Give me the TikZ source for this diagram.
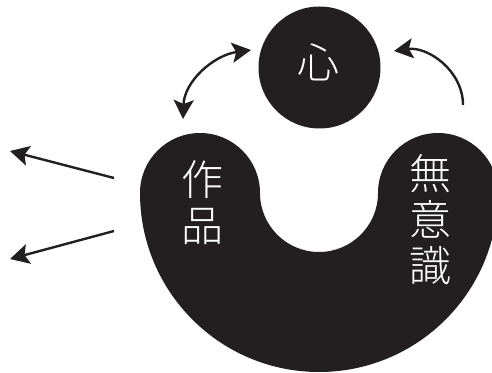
\documentclass[tikz,border=0pt]{standalone}
\usepackage{fontspec}
\IfFontExistsTF{Noto Sans CJK JP Light}
  {\newfontfamily\cjk{Noto Sans CJK JP Light}}
  {\newfontfamily\cjk{Noto Sans CJK JP}}
\usetikzlibrary{arrows.meta}
\definecolor{ink}{HTML}{231F20}
\tikzset{
  tip/.tip={Stealth[length=19pt,width=20pt,inset=4pt]},
  arr/.style={draw=ink, line width=2.4pt, -tip},
  darr/.style={draw=ink, line width=2.4pt, tip-tip},
  lbl/.style={text=white, font=\cjk\fontsize{42}{46}\selectfont, align=center, inner sep=0pt}
}
\begin{document}
\begin{tikzpicture}[x=1pt,y=1pt]
\useasboundingbox (0,0) rectangle (492,372);
\clip (0,0) rectangle (492,372);
% U shape
\fill[ink] (140,179) arc[start angle=180,end angle=360,radius=179]
  arc[start angle=0,end angle=180,radius=60]
  arc[start angle=0,end angle=-180,radius=59]
  arc[start angle=0,end angle=180,radius=60] -- cycle;
% circle
\node[circle, fill=ink, minimum size=122pt, inner sep=0pt] (heart) at (319.5,304.5) {};
\node[lbl] (kokoro) at (318,310) {心};
\node[lbl] (sakuhin) at (202,169) {作\\品};
\node[lbl] (muishiki) at (430,152) {無\\意\\識};
% connector ends
\coordinate (dl) at (183,253);
\coordinate (dr) at (251,322);
\coordinate (rt) at (463,267);
\coordinate (rh) at (394,321);
\coordinate (u1t) at (114,194);
\coordinate (u1h) at (10,221);
\coordinate (u2t) at (114,141);
\coordinate (u2h) at (10,113);
\draw[darr] (dl) to[out=88,in=188] (dr);
\draw[arr] (rt) to[out=90,in=8] (rh);
\draw[arr] (u1t) -- (u1h);
\draw[arr] (u2t) -- (u2h);
\end{tikzpicture}
\end{document}
